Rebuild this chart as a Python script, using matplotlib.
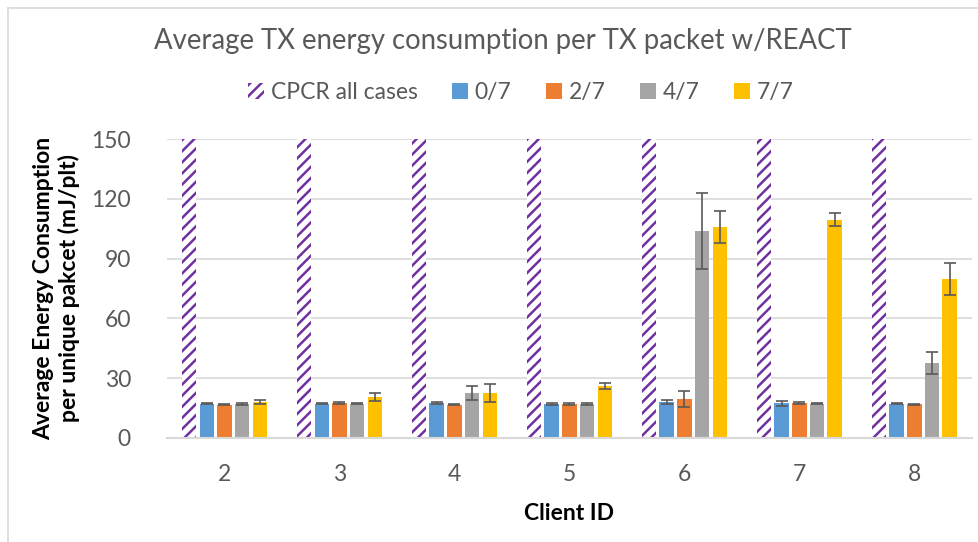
import numpy as np
import matplotlib.pyplot as plt
from matplotlib.lines import Line2D
from matplotlib.patches import Patch

clients = ['2', '3', '4', '5', '6', '7', '8']
series = ['CPCR all cases', '0/7', '2/7', '4/7', '7/7']

cpcr = [150, 150, 150, 150, 150, 150, 150]
r0 = [17.1, 17.2, 17.3, 17.0, 17.9, 17.4, 17.1]
r2 = [16.6, 17.3, 16.7, 17.0, 19.6, 17.6, 16.8]
r4 = [17.2, 17.1, 22.4, 17.0, 104.0, 17.1, 37.5]
r7 = [18.2, 20.6, 22.5, 26.0, 106.0, 109.5, 79.8]

e0 = [0.3, 0.3, 0.5, 0.3, 1.0, 1.2, 0.3]
e2 = [0.3, 0.5, 0.3, 0.3, 3.9, 0.5, 0.3]
e4 = [0.5, 0.3, 3.5, 0.3, 19.0, 0.3, 5.6]
e7 = [1.0, 1.9, 4.5, 1.5, 8.0, 3.3, 8.0]

colors = ['#5B9BD5', '#ED7D31', '#A5A5A5', '#FFC000']
purple = '#7030A0'
txt = '#595959'

plt.rcParams['font.family'] = ['Lato', 'DejaVu Sans']
plt.rcParams['hatch.linewidth'] = 1.8
plt.rcParams['hatch.color'] = purple

fig = plt.figure(figsize=(9.79, 5.42), dpi=100)
ax = fig.add_axes([0.1706, 0.192, 0.822, 0.5515])

x = np.arange(len(clients))
pitch = 0.154
w = 0.126

ax.bar(x - 2 * pitch, cpcr, w, color='white', edgecolor=purple, hatch='///',
       linewidth=0, zorder=2)
for i, (vals, errs) in enumerate(zip([r0, r2, r4, r7], [e0, e2, e4, e7])):
    ax.bar(x + (i - 1) * pitch, vals, w, color=colors[i], zorder=2,
           yerr=errs, error_kw=dict(ecolor='#595959', elinewidth=1.2,
                                    capsize=4.5, capthick=1.2, zorder=3))

ax.set_xlim(-0.5, len(clients) - 0.5)
ax.set_ylim(0, 150)
ax.set_yticks([0, 30, 60, 90, 120, 150])
ax.set_xticks(x)
ax.set_xticklabels(clients)
ax.tick_params(length=0, labelsize=16.5, colors=txt)
ax.tick_params(axis='x', pad=19)
ax.tick_params(axis='y', pad=26)
ax.yaxis.grid(True, color='#D9D9D9', linewidth=1.2, zorder=0)
ax.set_axisbelow(True)
for s in ['left', 'right', 'top']:
    ax.spines[s].set_visible(False)
ax.spines['bottom'].set_color('#D9D9D9')
ax.spines['bottom'].set_linewidth(1.5)

ax.set_xlabel('Client ID', fontsize=16.5, fontweight='bold', labelpad=13)
ax.set_ylabel('Average Energy Consumption\nper unique pakcet (mJ/plt)',
              fontsize=16.5, fontweight='bold', labelpad=8, linespacing=1.2)

fig.text(0.514, 0.925, 'Average TX energy consumption per TX packet w/REACT',
         ha='center', va='center', fontsize=19.8, color=txt)

handles = [Patch(facecolor='white', edgecolor=purple, hatch='///', linewidth=0)]
handles += [Patch(facecolor=c) for c in colors]
fig.legend(handles, series, loc='center', bbox_to_anchor=(0.532, 0.83),
           ncol=5, frameon=False, fontsize=16.5, handlelength=0.7,
           handleheight=0.7, handletextpad=0.3, columnspacing=1.5,
           labelcolor=txt)

# chart border
fig.add_artist(Line2D([8 / 979, 8 / 979], [0, 1 - 8 / 542], color='#D9D9D9', lw=1.2))
fig.add_artist(Line2D([8 / 979, 1], [1 - 8 / 542, 1 - 8 / 542], color='#D9D9D9', lw=1.2))

fig.savefig('out.png', dpi=100)
